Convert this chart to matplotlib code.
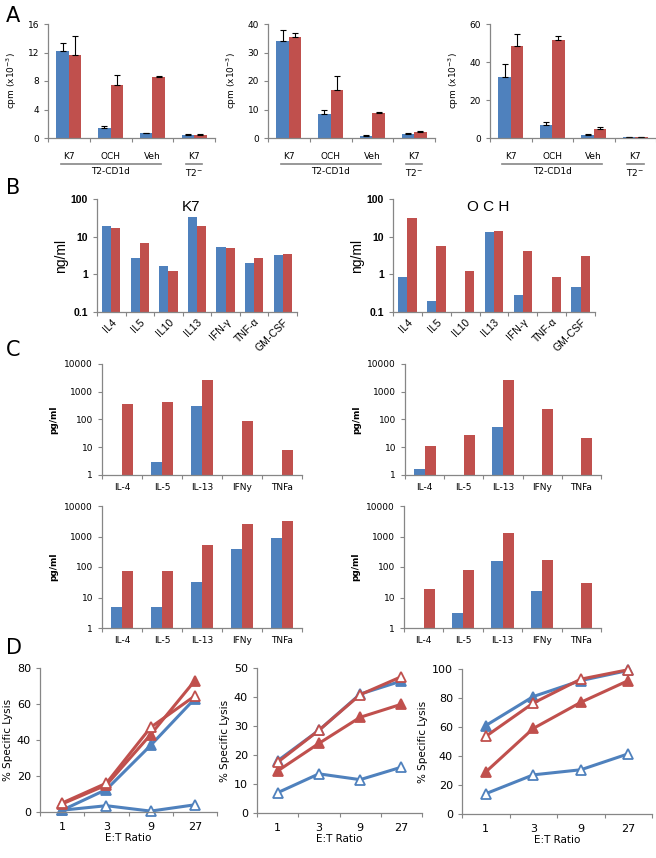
import numpy as np
import matplotlib
matplotlib.use("agg")
import matplotlib.pyplot as plt
from matplotlib.ticker import FixedLocator, NullLocator
from matplotlib.transforms import blended_transform_factory

BLUE = "#4F81BD"
RED = "#C0504D"
GRAY = "#868686"

# ---- panel A : proliferation (cpm x10^-3) ----
a_groups = ["K7", "OCH", "Veh", "K7"]
a_blue = [[12.2, 1.4, 0.7, 0.4], [34.0, 8.5, 0.7, 1.3], [32.0, 7.0, 1.8, 0.3]]
a_blue_err = [[1.1, 0.3, 0.05, 0.1], [4.0, 1.5, 0.2, 0.5], [7.0, 1.5, 0.4, 0.1]]
a_red = [[11.6, 7.4, 8.6, 0.4], [35.5, 17.0, 8.6, 2.0], [48.5, 51.8, 4.5, 0.3]]
a_red_err = [[2.7, 1.4, 0.05, 0.1], [1.5, 4.7, 0.5, 0.4], [6.0, 1.7, 1.5, 0.1]]
a_ymax = [16, 40, 60]
a_ystep = [4, 10, 20]

# ---- panel B : ng/ml ----
b_cats = ["IL4", "IL5", "IL10", "IL13", "IFN-\u03b3", "TNF-\u03b1", "GM-CSF"]
b_k7_blue = [19, 2.7, 1.7, 33, 5.2, 2.0, 3.2]
b_k7_red = [17, 6.8, 1.2, 19.5, 4.9, 2.7, 3.4]
b_och_blue = [0.85, 0.2, 0, 13, 0.28, 0, 0.45]
b_och_red = [31, 5.7, 1.2, 14.5, 4.2, 0.85, 3.1]

# ---- panel C : pg/ml ----
c_cats = ["IL-4", "IL-5", "IL-13", "IFNy", "TNFa"]
c_blue = [[0, 3, 300, 0, 0], [1.7, 0, 55, 0, 0],
          [5, 5, 32, 380, 900], [0, 3, 160, 16, 0]]
c_red = [[370, 430, 2700, 85, 8], [11, 27, 2700, 240, 21],
         [75, 72, 520, 2500, 3200], [19, 78, 1300, 165, 30]]

# ---- panel D : % specific lysis ----
d_ratio = ["1", "3", "9", "27"]
d_blue_fill = [[1, 12.5, 37, 63], [18, 28.5, 41, 45.5], [61, 81, 92, 99]]
d_blue_open = [[1, 3.5, 0.5, 4], [7, 13.5, 11.5, 15.8], [14, 27, 30.5, 41.5]]
d_red_fill = [[4.5, 15, 43, 73], [14.5, 24, 33, 37.5], [29, 59, 77, 92]]
d_red_open = [[5, 16, 47, 64.5], [17.5, 28.5, 40.8, 47], [53.5, 76.5, 93, 99.5]]
d_ymax = [80, 50, 100]
d_ystep = [20, 10, 20]

W, H = 656, 858
fig = plt.figure(figsize=(W / 100, H / 100), dpi=100)


def add_ax(x0, y0, x1, y1):
    ax = fig.add_axes([x0 / W, 1 - y1 / H, (x1 - x0) / W, (y1 - y0) / H])
    for s in ["top", "right"]:
        ax.spines[s].set_visible(False)
    for s in ["left", "bottom"]:
        ax.spines[s].set_color(GRAY)
        ax.spines[s].set_linewidth(0.9)
    ax.tick_params(colors=GRAY, labelcolor="black", labelsize=6.5,
                   length=3, width=0.8, direction="out")
    return ax


def boundary_ticks(ax, n):
    ax.set_xlim(0, n)
    ax.xaxis.set_major_locator(FixedLocator(np.arange(n) + 0.5))
    ax.xaxis.set_minor_locator(FixedLocator(np.arange(n + 1)))
    ax.tick_params(axis="x", which="major", length=0)
    ax.tick_params(axis="x", which="minor", length=3, color=GRAY, width=0.8)


# ---------------- A ----------------
a_pos = [(48, 215), (268, 435), (490, 656)]
bw = 0.3
for i, (x0, x1) in enumerate(a_pos):
    ax = add_ax(x0, 24, x1, 138)
    x = np.arange(4) + 0.5
    ax.bar(x - bw / 2, a_blue[i], bw, color=BLUE,
           yerr=[np.zeros(4), a_blue_err[i]], capsize=2.5,
           error_kw=dict(elinewidth=0.8, capthick=0.8, ecolor="black"))
    ax.bar(x + bw / 2, a_red[i], bw, color=RED,
           yerr=[np.zeros(4), a_red_err[i]], capsize=2.5,
           error_kw=dict(elinewidth=0.8, capthick=0.8, ecolor="black"))
    boundary_ticks(ax, 4)
    ax.set_xticklabels([])
    ax.set_ylim(0, a_ymax[i])
    ax.set_yticks(np.arange(0, a_ymax[i] + 1, a_ystep[i]))
    ax.set_ylabel("cpm (x10$^{-3}$)", fontsize=6.5, labelpad=6)
    tr = blended_transform_factory(ax.transData, ax.transAxes)
    for k, g in enumerate(a_groups):
        ax.text(x[k], -0.12, g, transform=tr, ha="center", va="top", fontsize=6.5)
    ax.plot([0.3, 2.7], [-0.225, -0.225], transform=tr, color=GRAY,
            lw=1.2, clip_on=False)
    ax.text(1.5, -0.25, "T2-CD1d", transform=tr, ha="center", va="top", fontsize=6.5)
    ax.plot([3.3, 3.7], [-0.225, -0.225], transform=tr, color=GRAY,
            lw=1.2, clip_on=False)
    ax.text(3.5, -0.25, "T2$^{-}$", transform=tr, ha="center", va="top", fontsize=6.5)

# ---------------- B ----------------
b_sets = [((97, 199, 297, 312), b_k7_blue, b_k7_red, "K7"),
          ((393, 199, 595, 312), b_och_blue, b_och_red, "O C H")]
bw = 0.32
for (x0, y0, x1, y1), blue, red, title in b_sets:
    ax = add_ax(x0, y0, x1, y1)
    n = len(b_cats)
    x = np.arange(n) + 0.5
    ymin = 0.1
    bv = np.array(blue, dtype=float)
    rv = np.array(red, dtype=float)
    m = bv > 0
    ax.bar(x[m] - bw / 2, bv[m] - ymin, bw, bottom=ymin, color=BLUE)
    m = rv > 0
    ax.bar(x[m] + bw / 2, rv[m] - ymin, bw, bottom=ymin, color=RED)
    ax.set_yscale("log")
    ax.set_ylim(ymin, 100)
    ax.yaxis.set_major_locator(FixedLocator([0.1, 1, 10, 100]))
    ax.yaxis.set_minor_locator(NullLocator())
    ax.set_yticklabels(["0.1", "1", "10", "100"], fontweight="bold",
                       family="Liberation Sans", fontsize=7.5)
    boundary_ticks(ax, n)
    ax.set_xticklabels(b_cats, rotation=45, ha="right", rotation_mode="anchor",
                       family="Liberation Sans", fontsize=7.5)
    ax.set_ylabel("ng/ml", family="Liberation Sans", fontsize=10, labelpad=2)
    ax.text(0.47, 0.93, title, transform=ax.transAxes, ha="center", va="center",
            family="Liberation Sans", fontsize=11)

# ---------------- C ----------------
c_pos = [(102, 364, 302, 475), (405, 364, 601, 475),
         (102, 506, 302, 628), (404, 506, 601, 628)]
bw = 0.28
for i, (x0, y0, x1, y1) in enumerate(c_pos):
    ax = add_ax(x0, y0, x1, y1)
    n = len(c_cats)
    x = np.arange(n) + 0.5
    ymin = 1
    bv = np.array(c_blue[i], dtype=float)
    rv = np.array(c_red[i], dtype=float)
    m = bv > 0
    ax.bar(x[m] - bw / 2, bv[m] - ymin, bw, bottom=ymin, color=BLUE)
    m = rv > 0
    ax.bar(x[m] + bw / 2, rv[m] - ymin, bw, bottom=ymin, color=RED)
    ax.set_yscale("log")
    ax.set_ylim(ymin, 10000)
    ax.yaxis.set_major_locator(FixedLocator([1, 10, 100, 1000, 10000]))
    ax.yaxis.set_minor_locator(NullLocator())
    ax.set_yticklabels(["1", "10", "100", "1000", "10000"], fontsize=6.5)
    boundary_ticks(ax, n)
    ax.set_xticklabels(c_cats, fontsize=6.5)
    ax.tick_params(axis="x", which="major", pad=6)
    ax.set_ylabel("pg/ml", fontsize=6.5, fontweight="bold", labelpad=4)

# ---------------- D ----------------
d_pos = [(40, 668, 217, 812), (257, 668, 422, 813), (462, 669, 652, 814)]
for i, (x0, y0, x1, y1) in enumerate(d_pos):
    ax = add_ax(x0, y0, x1, y1)
    x = np.arange(4) + 0.5
    lk = dict(lw=2.2, marker="^", ms=6.5, mew=1.3)
    ax.plot(x, d_blue_open[i], color=BLUE, mfc="white", mec=BLUE, **lk)
    ax.plot(x, d_blue_fill[i], color=BLUE, mfc=BLUE, mec=BLUE, **lk)
    ax.plot(x, d_red_fill[i], color=RED, mfc=RED, mec=RED, **lk)
    ax.plot(x, d_red_open[i], color=RED, mfc="white", mec=RED, **lk)
    boundary_ticks(ax, 4)
    ax.set_xticklabels(d_ratio, fontsize=8)
    ax.tick_params(axis="x", which="major", pad=7)
    ax.set_ylim(0, d_ymax[i])
    ax.set_yticks(np.arange(0, d_ymax[i] + 1, d_ystep[i]))
    ax.tick_params(axis="y", labelsize=8)
    ax.set_ylabel("% Specific Lysis", fontsize=7.5, labelpad=3)
    ax.set_xlabel("E:T Ratio", fontsize=7.5, labelpad=1)
    for ln in ax.lines:
        ln.set_clip_on(False)

# panel letters
for lab, y in [("A", 16), ("B", 188), ("C", 350), ("D", 648)]:
    fig.text(6 / W, 1 - y / H, lab, fontsize=15, va="center", ha="left")

fig.savefig("out.png", dpi=100)
